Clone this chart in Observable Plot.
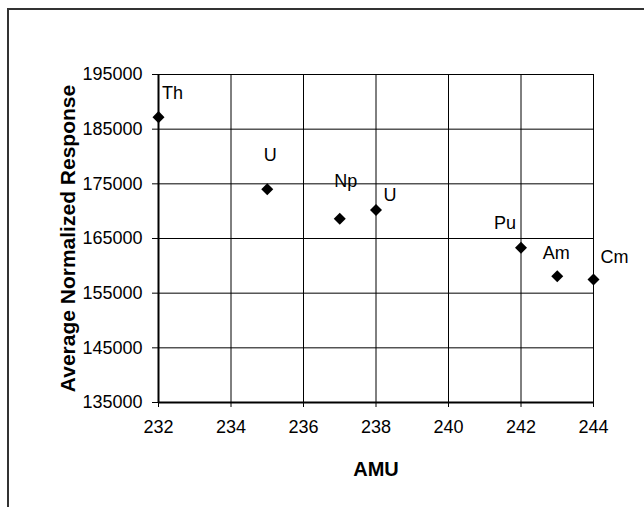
<!DOCTYPE html>
<html><head><meta charset="utf-8">
<script src="https://cdn.jsdelivr.net/npm/d3@7"></script>
<script src="https://cdn.jsdelivr.net/npm/@observablehq/plot@0.6"></script>
<style>
html,body{margin:0;padding:0;background:#fff;overflow:hidden;width:644px;height:507px}
#frame{position:absolute;left:7px;top:8px;width:700px;height:600px;border-left:2px solid #333;border-top:2px solid #333;}
#chart{position:absolute;left:0;top:0}
</style></head><body>
<div id="frame"></div><div id="chart"></div>
<script>
const elements = ["Th","U","Np","U","Pu","Am","Cm"];
const amu = [232,235,237,238,242,243,244];
const response = [187200,174000,168600,170200,163300,158100,157500];
const xTicks = [232,234,236,238,240,242,244];
const yTicks = [135000,145000,155000,165000,175000,185000,195000];
const labelDx = [14,3,6,14,-16,-1,21];
const labelDy = [-24,-34,-38,-15,-25,-23,-22];

const data = elements.map((e,i)=>({el:e, amu:amu[i], resp:response[i], i}));
const font = "'Liberation Sans', Arial, Helvetica, sans-serif";

const chart = Plot.plot({
  width: 644, height: 507,
  marginLeft: 158, marginRight: 51, marginTop: 74, marginBottom: 105,
  style: {fontFamily: font, fontSize: "18px", color: "black", background: "transparent", overflow: "visible"},
  x: {domain: [232,244]},
  y: {domain: [135000,195000]},
  marks: [
    Plot.gridX(xTicks, {stroke: "black", strokeOpacity: 1, strokeWidth: 1}),
    Plot.gridY(yTicks, {stroke: "black", strokeOpacity: 1, strokeWidth: 1}),
    Plot.ruleX([232], {stroke: "black", strokeWidth: 2}),
    Plot.ruleY([135000], {stroke: "black", strokeWidth: 2}),
    Plot.axisX({ticks: xTicks, tickSize: 5, tickPadding: 13, tickFormat: d => String(d), label: null}),
    Plot.axisY({ticks: yTicks, tickSize: 6, tickPadding: 10, tickFormat: d => String(d), label: null}),
    Plot.dot(data, {x: "amu", y: "resp", symbol: "square", r: 4.8, rotate: 45, fill: "black", stroke: "none"}),
    ...data.map((d,i) => Plot.text([d], {x: "amu", y: "resp", text: "el", dx: labelDx[i], dy: labelDy[i], fontSize: 18, fill: "black"})),
    Plot.text(["Average Normalized Response"], {frameAnchor: "left", rotate: -90, textAnchor: "middle", lineAnchor: "top", dx: -98, fontWeight: "bold", fontSize: 21, fill: "black"}),
    Plot.text(["AMU"], {frameAnchor: "bottom", textAnchor: "middle", lineAnchor: "bottom", dy: 73, fontWeight: "bold", fontSize: 20, fill: "black"})
  ]
});
document.getElementById("chart").appendChild(chart);
</script>
</body></html>
